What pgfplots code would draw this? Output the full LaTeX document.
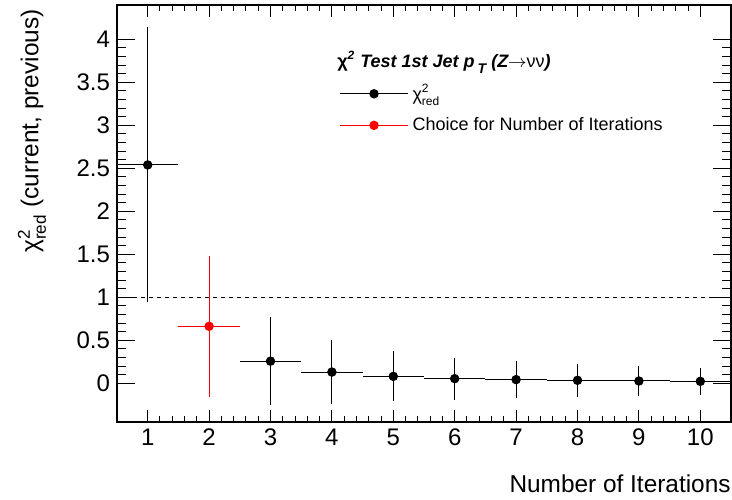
\documentclass[border=0pt]{standalone}
\usepackage{fontspec}
\setmainfont{Liberation Sans}
\usepackage{amsmath}
\usepackage{pgfplots}
\pgfplotsset{compat=1.18}

\pgfplotstableread{
x   y      ex   ey
1   2.54   0.5  1.60
3   0.258  0.5  0.512
4   0.131  0.5  0.368
5   0.081  0.5  0.290
6   0.054  0.5  0.245
7   0.043  0.5  0.215
8   0.035  0.5  0.194
9   0.027  0.5  0.175
10  0.023  0.5  0.160
}\chisq
\pgfplotstableread{
x   y      ex   ey
2   0.663  0.5  0.82
}\choice

\begin{document}
\begin{tikzpicture}
\path[use as bounding box] (0,0) rectangle (366pt,249.5pt);
\begin{axis}[
  at={(58.5pt,38.5pt)}, anchor=south west,
  scale only axis, width=307pt, height=208.5pt,
  xmin=0.5, xmax=10.5, ymin=-0.45, ymax=4.4,
  xtick={1,...,10}, ytick={0,0.5,...,4},
  minor x tick num=4, minor y tick num=4,
  tick align=inside,
  major tick length=9pt, minor tick length=4.5pt,
  xtick style={/pgfplots/major tick length=6pt, /pgfplots/minor tick length=3pt},
  axis line style={line width=0.6pt},
  every tick/.style={black, line width=0.5pt},
  /pgf/number format/assume math mode=true,
  tick label style={font=\fontsize{12}{14}\selectfont},
  xlabel={Number of Iterations},
  ylabel={$\text{χ}^{\text{2}}_{\text{red}}$ (current, previous)},
  label style={font=\fontsize{12.2}{14}\selectfont},
  xlabel style={at={(rel axis cs:1,0)}, anchor=north east, inner sep=0pt, yshift=-26pt},
  ylabel style={at={(rel axis cs:0,1)}, anchor=east, inner sep=0pt, yshift=42.5pt, xshift=-2pt},
  legend style={draw=none, fill=none, at={(rel axis cs:0.352,0.83)}, anchor=north west,
    font=\fontsize{9}{10}\selectfont, row sep=3pt, cells={anchor=west}},
  legend image code/.code={\draw[mark repeat=2,mark phase=2,#1] plot coordinates {(0pt,0pt)(17pt,0pt)(34pt,0pt)};},
]
\addplot[black, dash pattern=on 2pt off 2pt, line width=0.5pt, forget plot] coordinates {(0.5,1) (10.5,1)};
\addplot[black, only marks, mark=*, mark size=2.1pt, line width=0.5pt, forget plot,
  error bars/.cd, x dir=both, x explicit, y dir=both, y explicit, error mark=none,
  error bar style={black, line width=0.5pt}]
  table[x=x, y=y, x error=ex, y error=ey] {\chisq};
\addplot[red, only marks, mark=*, mark size=2.1pt, line width=0.5pt, forget plot,
  error bars/.cd, x dir=both, x explicit, y dir=both, y explicit, error mark=none,
  error bar style={red, line width=0.5pt}]
  table[x=x, y=y, x error=ex, y error=ey] {\choice};
\addlegendimage{black, mark=*, mark size=2.1pt, line width=0.5pt}
\addlegendentry{$\text{χ}^{\text{2}}_{\text{red}}$}
\addlegendimage{red, mark=*, mark size=2.1pt, line width=0.5pt}
\addlegendentry{Choice for Number of Iterations}
\node[font=\fontsize{9}{10}\selectfont\bfseries\itshape, inner sep=0pt] at (rel axis cs:0.5326,0.863)
  {\textup{χ}\textsuperscript{2} Test 1st Jet p\,\raisebox{-3pt}{\fontsize{7}{8}\selectfont T} (Z{\mdseries\upshape$\rightarrow$νν})};
\end{axis}
\end{tikzpicture}
\end{document}
